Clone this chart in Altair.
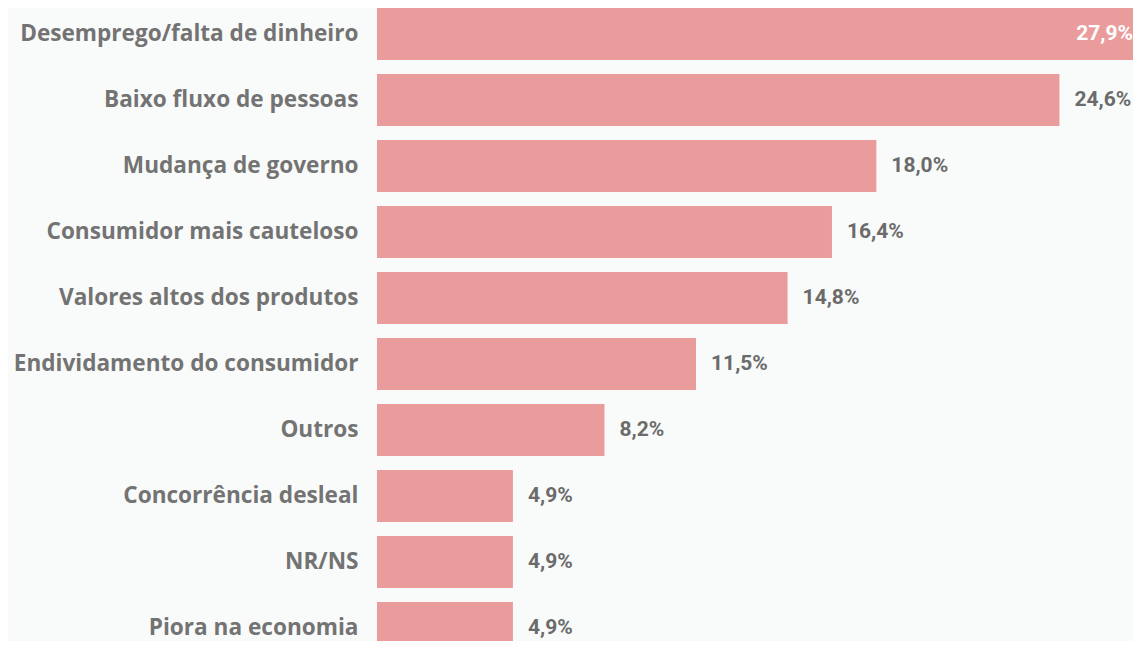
import altair as alt
import pandas as pd

categories = [
    "Desemprego/falta de dinheiro",
    "Baixo fluxo de pessoas",
    "Mudança de governo",
    "Consumidor mais cauteloso",
    "Valores altos dos produtos",
    "Endividamento do consumidor",
    "Outros",
    "Concorrência desleal",
    "NR/NS",
    "Piora na economia",
]
values = [27.9, 24.6, 18.0, 16.4, 14.8, 11.5, 8.2, 4.9, 4.9, 4.9]
labels = ["27,9%", "24,6%", "18,0%", "16,4%", "14,8%", "11,5%", "8,2%", "4,9%", "4,9%", "4,9%"]
inside = [True, False, False, False, False, False, False, False, False, False]

df = pd.DataFrame({"cat": categories, "val": values, "lab": labels, "inside": inside})

BG = "#f9fbfa"
BAR = "#ea9c9c"
VAL_FONT = "Roboto"

y_scale = alt.Scale(domain=categories, range=[0, 646], paddingInner=0.212, paddingOuter=0)
x_scale = alt.Scale(domain=[0, 27.9], range=[0, 774], nice=False, zero=True)

y_enc = alt.Y(
    "cat:N",
    sort=categories,
    title=None,
    scale=y_scale,
    axis=alt.Axis(
        domain=False,
        ticks=False,
        labelPadding=19,
        labelFont="Open Sans",
        labelFontWeight="bold",
        labelFontSize=22.6,
        labelColor="#737373",
        labelLimit=400,
    ),
)
x_enc = alt.X("val:Q", title=None, scale=x_scale, axis=None)

base = alt.Chart(df)

bars = base.mark_bar(color=BAR, clip=True).encode(x=x_enc, y=y_enc)

outside_text = base.transform_filter("!datum.inside").mark_text(
    align="left", baseline="middle", dx=15, font=VAL_FONT, fontWeight="bold",
    fontSize=21, color="#6b6b6b",
).encode(x=x_enc, y=alt.Y("cat:N", sort=categories, scale=y_scale), text="lab:N")

inside_text = base.transform_filter("datum.inside").mark_text(
    align="right", baseline="middle", dx=-18, font=VAL_FONT, fontWeight="bold",
    fontSize=21, color="#ffffff",
).encode(x=x_enc, y=alt.Y("cat:N", sort=categories, scale=y_scale), text="lab:N")

chart = (
    alt.layer(bars, outside_text, inside_text)
    .properties(
        width=756,
        height=633,
        autosize="none",
        padding={"left": 369, "top": 0, "right": 0, "bottom": 0},
        background=BG,
    )
    .configure_view(stroke=None)
    .configure_axis(grid=False)
)

chart.save("out.html", embed_options={"renderer": "svg", "actions": False})
